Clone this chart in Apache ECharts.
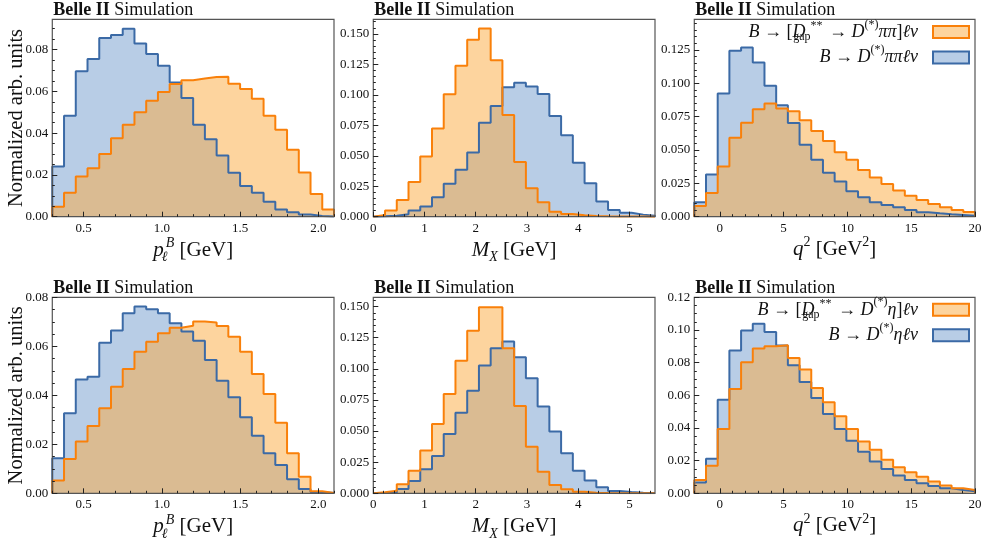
<!DOCTYPE html>
<html>
<head>
<meta charset="utf-8">
<script src="https://cdn.jsdelivr.net/npm/echarts@6/dist/echarts.min.js"></script>
<style>
  html, body { margin: 0; padding: 0; background: #fff; }
  #chart { width: 989px; height: 550px; }
</style>
</head>
<body>
<div id="chart"></div>
<script>
const SERIF = '"Liberation Serif", "DejaVu Serif", serif';

// Histogram ranges, 24 equal-width bins each
const plRange = [0.3, 2.1];
const mxRange = [0, 5.5];
const q2Range = [-2, 20];

// Tick labels
const plTicks = [0.5, 1.0, 1.5, 2.0];
const mxTicks = [0, 1, 2, 3, 4, 5];
const q2Ticks = [0, 5, 10, 15, 20];
const yTicksPlPiPi = [0, 0.02, 0.04, 0.06, 0.08];
const yTicksMxPiPi = [0, 0.025, 0.05, 0.075, 0.1, 0.125, 0.15];
const yTicksQ2PiPi = [0, 0.025, 0.05, 0.075, 0.1, 0.125];
const yTicksPlEta = [0, 0.02, 0.04, 0.06, 0.08];
const yTicksMxEta = [0, 0.025, 0.05, 0.075, 0.1, 0.125, 0.15];
const yTicksQ2Eta = [0, 0.02, 0.04, 0.06, 0.08, 0.1, 0.12];

// B -> D(*) pi pi l nu : non-resonant vs. D**_gap
const plPiPiNonRes = [0.0240, 0.0483, 0.0696, 0.0755, 0.0856, 0.0870, 0.0900, 0.0829, 0.0779, 0.0723, 0.0643, 0.0568,
                      0.0440, 0.0371, 0.0293, 0.0210, 0.0147, 0.0115, 0.0072, 0.0035, 0.0021, 0.0010, 0.0003, 0.0001];
const plPiPiGap    = [0.0048, 0.0115, 0.0192, 0.0232, 0.0300, 0.0376, 0.0440, 0.0500, 0.0555, 0.0597, 0.0635, 0.0653,
                      0.0662, 0.0669, 0.0670, 0.0637, 0.0611, 0.0565, 0.0483, 0.0416, 0.0320, 0.0211, 0.0109, 0.0035];
const mxPiPiNonRes = [0.0003, 0.0008, 0.0020, 0.0050, 0.0083, 0.0160, 0.0270, 0.0385, 0.0526, 0.0771, 0.0908, 0.1062,
                      0.1100, 0.1068, 0.1007, 0.0826, 0.0669, 0.0443, 0.0275, 0.0124, 0.0055, 0.0033, 0.0017, 0.0008];
const mxPiPiGap    = [0.0014, 0.0050, 0.0138, 0.0284, 0.0495, 0.0724, 0.1005, 0.1239, 0.1453, 0.1544, 0.1283, 0.0834,
                      0.0449, 0.0234, 0.0118, 0.0041, 0.0022, 0.0011, 0.0005, 0.0003, 0.0002, 0.0001, 0.0001, 0.0000];
const q2PiPiNonRes = [0.0108, 0.0316, 0.0924, 0.1245, 0.1268, 0.1157, 0.0981, 0.0836, 0.0703, 0.0540, 0.0427, 0.0329,
                      0.0264, 0.0191, 0.0146, 0.0108, 0.0088, 0.0070, 0.0050, 0.0033, 0.0025, 0.0018, 0.0013, 0.0008];
const q2PiPiGap    = [0.0080, 0.0178, 0.0377, 0.0592, 0.0705, 0.0806, 0.0848, 0.0811, 0.0791, 0.0723, 0.0643, 0.0567,
                      0.0484, 0.0427, 0.0351, 0.0294, 0.0246, 0.0196, 0.0158, 0.0126, 0.0095, 0.0070, 0.0050, 0.0035];

// B -> D(*) eta l nu : non-resonant vs. D**_gap
const plEtaNonRes = [0.0143, 0.0327, 0.0465, 0.0476, 0.0615, 0.0664, 0.0735, 0.0762, 0.0751, 0.0735, 0.0694, 0.0660,
                     0.0623, 0.0544, 0.0459, 0.0392, 0.0310, 0.0235, 0.0163, 0.0116, 0.0057, 0.0018, 0.0005, 0.0001];
const plEtaGap    = [0.0052, 0.0140, 0.0211, 0.0275, 0.0347, 0.0435, 0.0507, 0.0578, 0.0619, 0.0653, 0.0676, 0.0684,
                     0.0701, 0.0697, 0.0683, 0.0639, 0.0578, 0.0487, 0.0405, 0.0288, 0.0163, 0.0068, 0.0008, 0.0001];
const mxEtaNonRes = [0.0003, 0.0005, 0.0035, 0.0099, 0.0193, 0.0300, 0.0477, 0.0648, 0.0825, 0.1026, 0.1165, 0.1219,
                     0.1093, 0.0924, 0.0697, 0.0496, 0.0321, 0.0182, 0.0102, 0.0048, 0.0019, 0.0011, 0.0005, 0.0003];
const mxEtaGap    = [0.0008, 0.0021, 0.0072, 0.0182, 0.0343, 0.0557, 0.0798, 0.1066, 0.1307, 0.1495, 0.1495, 0.1165,
                     0.0702, 0.0375, 0.0174, 0.0067, 0.0032, 0.0013, 0.0005, 0.0002, 0.0001, 0.0001, 0.0000, 0.0000];
const q2EtaNonRes = [0.0066, 0.0211, 0.0573, 0.0874, 0.0997, 0.1038, 0.0987, 0.0905, 0.0784, 0.0682, 0.0584, 0.0485,
                     0.0393, 0.0322, 0.0254, 0.0195, 0.0149, 0.0109, 0.0082, 0.0061, 0.0045, 0.0031, 0.0020, 0.0012];
const q2EtaGap    = [0.0082, 0.0168, 0.0393, 0.0639, 0.0803, 0.0887, 0.0901, 0.0907, 0.0829, 0.0758, 0.0645, 0.0557,
                     0.0471, 0.0393, 0.0317, 0.0266, 0.0205, 0.0160, 0.0129, 0.0102, 0.0072, 0.0047, 0.0031, 0.0020];

// Series names per row
const rowNames = [
  { gap: 'B → [D**gap → D(*)ππ]ℓν', nonRes: 'B → D(*)ππℓν' },
  { gap: 'B → [D**gap → D(*)η]ℓν',  nonRes: 'B → D(*)ηℓν' }
];
const legendLabels = {
  'B → [D**gap → D(*)ππ]ℓν': '{i|B}{n| → [}{i|D}{subw|gap}{sups|**}{n| → }{i|D}{sup|(*)}{i|ππ}{n|]}{end|ℓν}',
  'B → D(*)ππℓν':            '{i|B}{n| → }{i|D}{sup|(*)}{end|ππℓν}',
  'B → [D**gap → D(*)η]ℓν':  '{i|B}{n| → [}{i|D}{subw|gap}{sups|**}{n| → }{i|D}{sup|(*)}{i|η}{n|]}{end|ℓν}',
  'B → D(*)ηℓν':             '{i|B}{n| → }{i|D}{sup|(*)}{end|ηℓν}'
};

// Colours
const BLUE = '#3b6aa6', ORANGE = '#f9800a';
const BLUE_FILL = '#b8cde6', ORANGE_FILL = 'rgb(251,169,61)', ORANGE_FILL_SOLID = '#fdd49e';

// Plot boxes [left, top, width, height]
const boxes = [
  [52.3, 19.3, 281.7, 197.4], [373.3, 19.3, 281.7, 197.4], [694.3, 19.3, 280.7, 197.4],
  [52.3, 297.3, 281.7, 196.0], [373.3, 297.3, 281.7, 196.0], [694.3, 297.3, 280.7, 196.0]
];

const X_NAMES = {
  pl: '{i|p}{subw|ℓ}{supi|B}{n| [GeV]}',
  mx: '{i|M}{sub|X}{n| [GeV]}',
  q2: '{i|q}{sup|2}{n| [GeV}{sup|2}{n|]}'
};

const panels = [
  { row: 0, range: plRange, xTicks: plTicks, xDec: 1, xMinor: 0.1, yTicks: yTicksPlPiPi, yDec: 2, yMax: 0.0945, xName: 'pl', yName: true, nonRes: plPiPiNonRes, gap: plPiPiGap },
  { row: 0, range: mxRange, xTicks: mxTicks, xDec: 0, xMinor: 0.2, yTicks: yTicksMxPiPi, yDec: 3, yMax: 0.162,  xName: 'mx', yName: false, nonRes: mxPiPiNonRes, gap: mxPiPiGap },
  { row: 0, range: q2Range, xTicks: q2Ticks, xDec: 0, xMinor: 1,   yTicks: yTicksQ2PiPi, yDec: 3, yMax: 0.148,  xName: 'q2', yName: false, nonRes: q2PiPiNonRes, gap: q2PiPiGap },
  { row: 1, range: plRange, xTicks: plTicks, xDec: 1, xMinor: 0.1, yTicks: yTicksPlEta,  yDec: 2, yMax: 0.08,   xName: 'pl', yName: true, nonRes: plEtaNonRes, gap: plEtaGap },
  { row: 1, range: mxRange, xTicks: mxTicks, xDec: 0, xMinor: 0.2, yTicks: yTicksMxEta,  yDec: 3, yMax: 0.1575, xName: 'mx', yName: false, nonRes: mxEtaNonRes, gap: mxEtaGap },
  { row: 1, range: q2Range, xTicks: q2Ticks, xDec: 0, xMinor: 1,   yTicks: yTicksQ2Eta,  yDec: 2, yMax: 0.12,   xName: 'q2', yName: false, nonRes: q2EtaNonRes, gap: q2EtaGap }
];

// Points for a step outline: each bin's value held from its left edge to the next edge
function stepPoints(range, vals) {
  const w = (range[1] - range[0]) / vals.length;
  const pts = [[range[0], 0]];
  vals.forEach((v, k) => pts.push([range[0] + k * w, v]));
  pts.push([range[1], vals[vals.length - 1]]);
  pts.push([range[1], 0]);
  return pts;
}

function minorValues(lo, hi, step) {
  const out = [];
  const start = Math.ceil(lo / step - 1e-9);
  const end = Math.floor(hi / step + 1e-9);
  for (let k = start; k <= end; k++) out.push(Math.round(k * step * 1e6) / 1e6);
  return out;
}

const nameRich = {
  i:    { fontFamily: SERIF, fontSize: 21, fontStyle: 'italic', color: '#111' },
  n:    { fontFamily: SERIF, fontSize: 21, color: '#111' },
  sub:  { fontFamily: SERIF, fontSize: 14, fontStyle: 'italic', color: '#111', padding: [15, 0, 0, 0] },
  subw: { fontFamily: SERIF, fontSize: 14, fontStyle: 'italic', color: '#111', padding: [15, 0, 0, 0], width: 2 },
  supi: { fontFamily: SERIF, fontSize: 14, fontStyle: 'italic', color: '#111', padding: [0, 0, 13, 0] },
  sup:  { fontFamily: SERIF, fontSize: 14, color: '#111', padding: [0, 0, 13, 0] }
};

const legendRich = {
  i:    { fontFamily: SERIF, fontSize: 18, fontStyle: 'italic', color: '#111' },
  n:    { fontFamily: SERIF, fontSize: 18, color: '#111' },
  end:  { fontFamily: SERIF, fontSize: 18, fontStyle: 'italic', color: '#111', padding: [0, 10, 0, 0] },
  subw: { fontFamily: SERIF, fontSize: 12, color: '#111', padding: [10, 0, 0, 0], width: 5 },
  sups: { fontFamily: SERIF, fontSize: 12, color: '#111', padding: [0, 2, 12, 0] },
  sup:  { fontFamily: SERIF, fontSize: 12, color: '#111', padding: [0, 0, 15, 0] }
};

const grid = [], xAxis = [], yAxis = [], series = [], title = [];
const tickLine = { color: '#222', width: 1 };
const noLine = { show: false, onZero: false };

panels.forEach((p, i) => {
  const b = boxes[i];
  grid.push({ left: b[0], top: b[1], width: b[2], height: b[3], show: true, z: 10,
              borderColor: '#555', borderWidth: 1.2, backgroundColor: 'transparent', outerBoundsMode: 'none' });

  title.push({ left: b[0] + 1, top: b[1] - 18, padding: 0,
               text: '{b|Belle II}{r| Simulation}',
               textStyle: { fontWeight: 'normal', rich: {
                 b: { fontFamily: SERIF, fontSize: 18, fontWeight: 'bold', color: '#111' },
                 r: { fontFamily: SERIF, fontSize: 18, fontWeight: 'normal', color: '#111' } } } });

  // major x axis with labels and name
  xAxis.push({
    type: 'value', gridIndex: i, position: 'bottom', min: p.range[0], max: p.range[1], z: 10,
    axisLine: noLine, splitLine: { show: false },
    axisTick: { inside: true, length: 5, customValues: p.xTicks, lineStyle: tickLine },
    axisLabel: { customValues: p.xTicks, formatter: v => v.toFixed(p.xDec), margin: 5,
                 fontFamily: SERIF, fontSize: 13, color: '#111' },
    name: X_NAMES[p.xName], nameLocation: 'middle', nameGap: 19, nameMoveOverlap: false,
    nameTextStyle: { rich: nameRich }
  });
  // minor x ticks
  xAxis.push({
    type: 'value', gridIndex: i, position: 'bottom', min: p.range[0], max: p.range[1], z: 10,
    axisLine: noLine, splitLine: { show: false }, axisLabel: { show: false },
    axisTick: { inside: true, length: 2.5, customValues: minorValues(p.range[0], p.range[1], p.xMinor), lineStyle: tickLine }
  });

  yAxis.push({
    type: 'value', gridIndex: i, position: 'left', min: 0, max: p.yMax, z: 10,
    axisLine: noLine, splitLine: { show: false },
    axisTick: { inside: true, length: 5, customValues: p.yTicks, lineStyle: tickLine },
    axisLabel: { customValues: p.yTicks, formatter: v => v.toFixed(p.yDec), margin: 4,
                 fontFamily: SERIF, fontSize: 13, color: '#111' },
    name: p.yName ? 'Normalized arb. units' : '', nameLocation: 'middle', nameGap: 25.5, nameMoveOverlap: false,
    nameTextStyle: { fontFamily: SERIF, fontSize: 20.5, color: '#111' }
  });
  yAxis.push({
    type: 'value', gridIndex: i, position: 'left', min: 0, max: p.yMax, z: 10,
    axisLine: noLine, splitLine: { show: false }, axisLabel: { show: false },
    axisTick: { inside: true, length: 2.5, customValues: minorValues(0, p.yMax, 0.005), lineStyle: tickLine }
  });

  const names = rowNames[p.row];
  const ax = { xAxisIndex: 2 * i, yAxisIndex: 2 * i, step: 'end', symbol: 'none', silent: true, animation: false };
  series.push(Object.assign({ type: 'line', name: names.nonRes, data: stepPoints(p.range, p.nonRes), z: 2,
    itemStyle: { color: BLUE_FILL }, lineStyle: { width: 0, opacity: 0 }, areaStyle: { color: BLUE_FILL, opacity: 1 } }, ax));
  series.push(Object.assign({ type: 'line', name: names.gap, data: stepPoints(p.range, p.gap), z: 3,
    itemStyle: { color: ORANGE_FILL }, lineStyle: { width: 0, opacity: 0 }, areaStyle: { color: ORANGE_FILL, opacity: 0.5 } }, ax));
  series.push(Object.assign({ type: 'line', name: names.nonRes, data: stepPoints(p.range, p.nonRes), z: 4,
    itemStyle: { color: BLUE }, lineStyle: { color: BLUE, width: 2 } }, ax));
  series.push(Object.assign({ type: 'line', name: names.gap, data: stepPoints(p.range, p.gap), z: 5,
    itemStyle: { color: ORANGE }, lineStyle: { color: ORANGE, width: 2 } }, ax));
});

const legend = [0, 1].map(r => ({
  orient: 'vertical', align: 'right', right: 19, top: r === 0 ? 18.5 : 296.3, padding: 0,
  itemWidth: 36, itemHeight: 12, itemGap: 1, selectedMode: false, z: 20,
  textStyle: { fontFamily: SERIF, fontSize: 18, color: '#111', rich: legendRich },
  formatter: name => legendLabels[name],
  data: [
    { name: rowNames[r].gap, icon: 'rect',
      itemStyle: { color: ORANGE_FILL_SOLID, borderColor: ORANGE, borderWidth: 2, opacity: 1 } },
    { name: rowNames[r].nonRes, icon: 'rect',
      itemStyle: { color: BLUE_FILL, borderColor: BLUE, borderWidth: 2, opacity: 1 } }
  ]
}));

const chart = echarts.init(document.getElementById('chart'), null, { renderer: 'canvas' });
chart.setOption({
  animation: false,
  backgroundColor: '#fff',
  title, grid, xAxis, yAxis, series, legend
});
</script>
</body>
</html>
